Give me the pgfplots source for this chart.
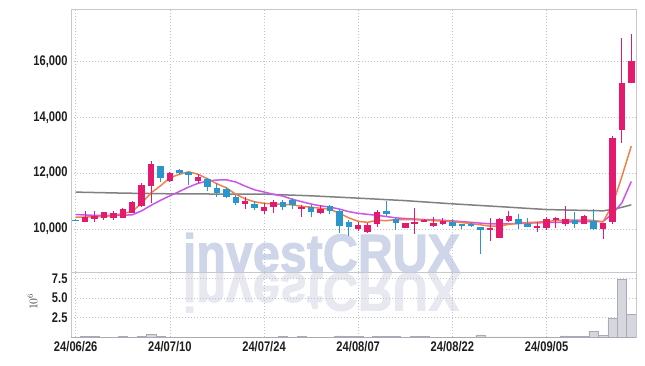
\documentclass[border=0pt]{standalone}
\usepackage{fontspec}
\setmainfont{Liberation Sans}[FakeStretch=0.8]
\newfontfamily\wmfont{Liberation Sans}[FakeBold=2]
\usepackage{pgfplots}
\pgfplotsset{compat=1.18}
\usepackage{pgfplotstable}

\definecolor{upc}{RGB}{228,26,110}
\definecolor{dnc}{RGB}{42,150,204}
\definecolor{ma5}{RGB}{240,128,72}
\definecolor{ma20}{RGB}{204,85,232}
\definecolor{ma60}{RGB}{128,128,128}
\definecolor{axc}{RGB}{200,200,204}
\definecolor{gridc}{RGB}{188,194,216}
\definecolor{labc}{RGB}{30,30,30}
\definecolor{volf}{RGB}{214,214,222}
\definecolor{vold}{RGB}{170,170,180}
\definecolor{wm}{RGB}{208,214,233}
\definecolor{wmr}{RGB}{231,232,240}

% up candles: index open high low close
\pgfplotstableread{
i o h l c
1 10262 10647 10250 10442
2 10370 10658 10241 10467
3 10406 10622 10323 10611
4 10406 10647 10323 10575
5 10395 10743 10395 10708
6 10586 11017 10586 10970
7 10826 11642 10780 11581
8 11545 12454 10923 12335
10 11735 12048 11689 12000
13 11714 11976 11642 11857
18 10898 11137 10730 11017
20 10636 10945 10539 10780
21 10802 11042 10570 10970
24 10730 10850 10442 10780
26 10586 10850 10540 10730
30 9990 10250 9918 10132
31 9892 10204 9845 10132
32 10180 10683 10084 10611
35 10048 10216 10048 10216
36 10190 10743 9832 10262
37 10240 10360 10240 10312
38 10119 10431 10072 10216
39 10168 10406 10143 10287
44 9953 10406 9570 10024
45 9665 10400 9665 10360
46 10287 10647 10262 10478
49 10048 10240 9892 10119
50 10048 10431 9953 10360
51 10312 10431 10024 10406
52 10168 10814 10119 10360
54 10190 10500 10170 10455
56 10000 10216 9641 10216
57 10240 13330 10180 13258
58 13546 16852 13090 15245
59 15245 17014 15220 16036
}\uptab

% down candles
\pgfplotstableread{
i o h l c
0 10330 10350 10280 10290
9 12263 12263 11689 11832
11 12120 12144 11940 12000
12 12024 12048 11592 11929
14 11786 11810 11376 11520
15 11473 11664 11137 11281
16 11425 11520 11090 11161
17 11137 11232 10850 10923
19 10898 11017 10683 10755
22 10950 11042 10660 10780
23 11042 11113 10730 10850
25 10780 10850 10442 10611
27 10826 10850 10520 10636
28 10658 10708 9845 10108
29 10228 10300 9750 10084
33 10647 11006 10455 10550
34 10360 10383 9976 10216
40 10240 10360 10024 10119
41 10170 10190 10000 10119
42 10190 10262 10060 10119
43 10072 10072 9090 9976
47 10360 10527 10000 10190
48 10168 10383 10072 10072
53 10335 10600 10024 10190
55 10287 10719 9953 10000
}\dntab

% moving averages
\pgfplotstableread{
i a
0 10420
1 10424
2 10431
3 10442
4 10485
5 10546
6 10629
7 10916
8 11293
9 11545
10 11832
11 11958
12 12048
13 11958
14 11797
15 11617
16 11473
17 11240
18 11078
19 10970
20 10916
21 10898
22 10880
23 10862
24 10808
25 10780
26 10737
27 10708
28 10557
29 10395
30 10269
31 10234
32 10305
33 10295
34 10331
35 10334
36 10331
37 10313
38 10295
39 10277
40 10262
41 10226
42 10190
43 10144
44 10097
45 10097
46 10162
47 10198
48 10226
49 10241
50 10262
51 10295
52 10313
53 10313
54 10316
55 10305
56 10250
57 10860
58 11880
59 12971
}\maA

\pgfplotstableread{
i a
0 10514
1 10499
2 10485
3 10478
4 10481
5 10489
6 10503
7 10647
8 10844
9 11024
10 11186
11 11340
12 11502
13 11635
14 11717
15 11753
16 11761
17 11682
18 11534
19 11401
20 11322
21 11240
22 11175
23 11060
24 10977
25 10891
26 10826
27 10780
28 10711
29 10618
30 10557
31 10521
32 10485
33 10442
34 10395
35 10370
36 10352
37 10334
38 10320
39 10305
40 10287
41 10259
42 10234
43 10205
44 10180
45 10173
46 10180
47 10190
48 10205
49 10216
50 10223
51 10234
52 10241
53 10252
54 10262
55 10262
56 10262
57 10539
58 10934
59 11700
}\maB

\pgfplotstableread{
i a
0 11319
5 11283
10 11258
15 11250
20 11247
25 11186
30 11103
35 11013
40 10898
45 10798
50 10693
55 10654
56 10647
57 10701
58 10773
59 10862
}\maC

% volume in millions
\pgfplotstableread{
i v
0 0.03
1 0.1
2 0.1
3 0.03
4 0.03
5 0.1
6 0.03
7 0.1
8 0.42
9 0.15
10 0.03
11 0.03
12 0.03
13 0.03
14 0.03
15 0.03
16 0.03
17 0.03
18 0.03
19 0.03
20 0.03
21 0.03
22 0.1
23 0.03
24 0.1
25 0.03
26 0.03
27 0.03
28 0.2
29 0.1
30 0.1
31 0.03
32 0.1
33 0.1
34 0.1
35 0.03
36 0.1
37 0.1
38 0.03
39 0.03
40 0.03
41 0.03
42 0.03
43 0.33
44 0.08
45 0.08
46 0.08
47 0.08
48 0.08
49 0.08
50 0.08
51 0.03
52 0.2
53 0.1
54 0.1
55 0.8
56 0.25
57 2.4
58 7.4
59 2.9
}\voltab

\pgfplotsset{
  common/.style={
    scale only axis,
    width=565bp,
    xmin=-0.5, xmax=59.5,
    axis line style={draw=axc, line width=0.8bp},
    grid=major,
    major grid style={draw=gridc, line width=0.6bp, dash pattern=on 1bp off 2bp},
    major tick length=0pt,
    scaled y ticks=false,
    scaled x ticks=false,
    tick label style={font=\fontsize{14}{16}\selectfont\bfseries, text=labc},
    xtick={0,10,20,30,40,50},
  },
  candle/.style 2 args={draw=none, mark=none, forget plot,
    error bars/.cd, y dir=both, y explicit, error mark=none,
    error bar style={draw=#1, solid, line width=#2}},
}

\begin{document}
\begin{tikzpicture}
\path[use as bounding box] (-71bp,-28.6bp) rectangle (574bp,337.4bp);
% watermark
\node[anchor=base, text=wm, inner sep=0pt] at (250.5bp,65.4bp)
  {\scalebox{0.9}[1]{\wmfont\bfseries\fontsize{54}{54}\selectfont investCRUX}};
\node[anchor=base, text=wmr, inner sep=0pt] at (250.5bp,64bp)
  {\scalebox{0.9}[-1]{\wmfont\bfseries\fontsize{54}{54}\selectfont investCRUX}};

\begin{axis}[common,
  at={(0bp,65.4bp)}, anchor=south west,
  height=262.7bp,
  ymin=8450, ymax=17885,
  ytick={10000,12000,14000,16000},
  yticklabels={{10,000},{12,000},{14,000},{16,000}},
  xticklabels={},
]
% moving averages
\addplot[ma60, line width=1.5bp, line join=round, mark=none] table[x=i,y=a]{\maC};
\addplot[ma20, line width=1.5bp, line join=round, mark=none] table[x=i,y=a]{\maB};
\addplot[ma5, line width=1.5bp, line join=round, mark=none] table[x=i,y=a]{\maA};
% wicks
\addplot[candle={upc}{1bp}]
  table[x=i, y expr={(\thisrow{h}+\thisrow{l})/2}, y error expr={(\thisrow{h}-\thisrow{l})/2}]{\uptab};
\addplot[candle={dnc}{1bp}]
  table[x=i, y expr={(\thisrow{h}+\thisrow{l})/2}, y error expr={(\thisrow{h}-\thisrow{l})/2}]{\dntab};
% bodies
\addplot[candle={upc}{6.5bp}]
  table[x=i, y expr={(\thisrow{o}+\thisrow{c})/2}, y error expr={abs(\thisrow{c}-\thisrow{o})/2}]{\uptab};
\addplot[candle={dnc}{6.5bp}]
  table[x=i, y expr={(\thisrow{o}+\thisrow{c})/2}, y error expr={abs(\thisrow{c}-\thisrow{o})/2}]{\dntab};
\end{axis}

\begin{axis}[common,
  at={(0bp,0bp)}, anchor=south west,
  height=65.4bp,
  ymin=0, ymax=8.3,
  ytick={2.5,5,7.5},
  yticklabels={2.5,5.0,7.5},
  xticklabels={24/06/26,24/07/10,24/07/24,24/08/07,24/08/22,24/09/05},
  ylabel={$10^6$},
  ylabel style={at={(axis description cs:-0.068,0.546)}, anchor=center, font=\fontsize{12}{12}\selectfont, text=black!75},
  ybar, bar width=1,
]
\addplot[fill=volf, draw=vold, line width=0.5bp] table[x=i,y=v]{\voltab};
\end{axis}
\end{tikzpicture}
\end{document}
